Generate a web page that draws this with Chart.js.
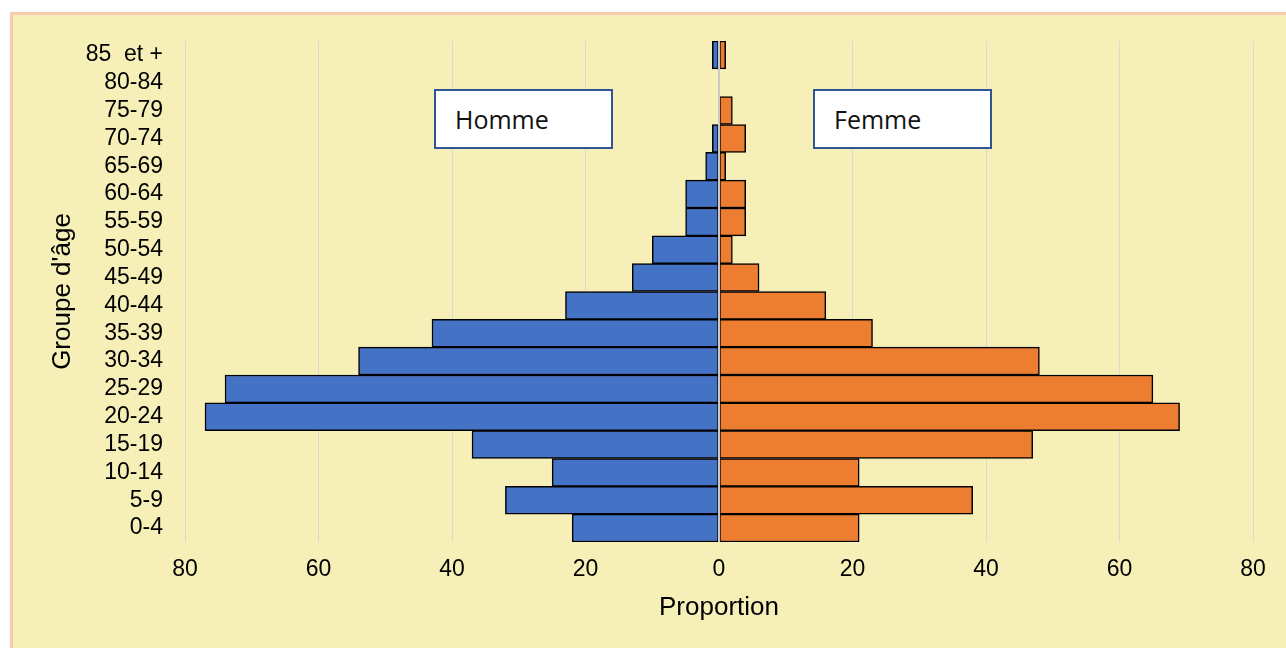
<!DOCTYPE html>
<html>
<head>
<meta charset="utf-8">
<script src="https://cdn.jsdelivr.net/npm/chart.js@4.4.1/dist/chart.umd.min.js"></script>
<style>
  html, body { margin: 0; padding: 0; background: #ffffff; overflow: hidden; width: 1286px; height: 648px; }
  #frame { position: absolute; left: 10px; top: 12px; width: 1290px; height: 650px; background: #F6F0B8; border-left: 3px solid #F7CBAC; border-top: 3px solid #F7CBAC; box-sizing: border-box; }
  #c { position: absolute; left: 0; top: 0; display: block; }
  .lbl { position: absolute; top: 89px; height: 60px; width: 179px; box-sizing: border-box; background: #ffffff; border: 2px solid #2F5597; font-family: "Open Sans", "Noto Sans", sans-serif; font-size: 25px; color: #111; line-height: 56px; padding-left: 19px; }
</style>
</head>
<body>
<div id="frame"></div>
<canvas id="c" width="1286" height="648"></canvas>
<div class="lbl" style="left:434px;">Homme</div>
<div class="lbl" style="left:813px;">Femme</div>
<script>
const ageGroups = ['0-4','5-9','10-14','15-19','20-24','25-29','30-34','35-39','40-44','45-49','50-54','55-59','60-64','65-69','70-74','75-79','80-84','85  et +'];
const hommes = [22, 32, 25, 37, 77, 74, 54, 43, 23, 13, 10, 5, 5, 2, 1, 0, 0, 1];
const femmes = [21, 38, 21, 47, 69, 65, 48, 23, 16, 6, 2, 4, 4, 1, 4, 2, 0, 1];
const xTicks = [-80, -60, -40, -20, 0, 20, 40, 60, 80];

const centerLine = {
  id: 'centerLine',
  afterDatasetsDraw(chart) {
    const {ctx, chartArea, scales} = chart;
    const x = scales.x.getPixelForValue(0);
    ctx.save();
    ctx.strokeStyle = '#C9C9C9';
    ctx.lineWidth = 2;
    ctx.beginPath();
    ctx.moveTo(x, chartArea.top);
    ctx.lineTo(x, chartArea.bottom);
    ctx.stroke();
    ctx.restore();
  }
};

new Chart(document.getElementById('c'), {
  type: 'bar',
  data: {
    labels: ageGroups,
    datasets: [
      { label: 'Homme', data: hommes.map(v => -v), backgroundColor: '#4472C4', borderColor: '#000000', borderWidth: 1.5, borderSkipped: false, barPercentage: 1, categoryPercentage: 1 },
      { label: 'Femme', data: femmes, backgroundColor: '#ED7D31', borderColor: '#000000', borderWidth: 1.5, borderSkipped: false, barPercentage: 1, categoryPercentage: 1 }
    ]
  },
  options: {
    indexAxis: 'y',
    responsive: false,
    animation: false,
    layout: { padding: { top: 41, right: 33, bottom: 0, left: 0 } },
    plugins: { legend: { display: false }, tooltip: { enabled: false }, title: { display: false } },
    scales: {
      x: {
        stacked: true,
        min: -80, max: 80,
        afterBuildTicks(scale) { scale.ticks = xTicks.map(v => ({ value: v })); },
        afterFit(scale) { scale.height = 106; },
        border: { display: false },
        grid: { color: '#D9D9D9', lineWidth: 1, drawTicks: false },
        ticks: { color: '#000', font: { family: 'Liberation Sans, Arial, sans-serif', size: 23 }, padding: 14, callback: v => Math.abs(v) },
        title: { display: true, text: 'Proportion', color: '#000', font: { family: 'Liberation Sans, Arial, sans-serif', size: 26 }, padding: { top: 0, bottom: 25 } }
      },
      y: {
        stacked: true,
        reverse: true,
        afterFit(scale) { scale.width = 185; },
        border: { display: false },
        grid: { display: false, drawTicks: false },
        ticks: { color: '#000', font: { family: 'Liberation Sans, Arial, sans-serif', size: 23 }, padding: 22, autoSkip: false },
        title: { display: true, text: "Groupe d'âge", color: '#000', font: { family: 'Liberation Sans, Arial, sans-serif', size: 26 }, padding: { top: 47, bottom: 0 } }
      }
    }
  },
  plugins: [centerLine]
});
</script>
</body>
</html>
